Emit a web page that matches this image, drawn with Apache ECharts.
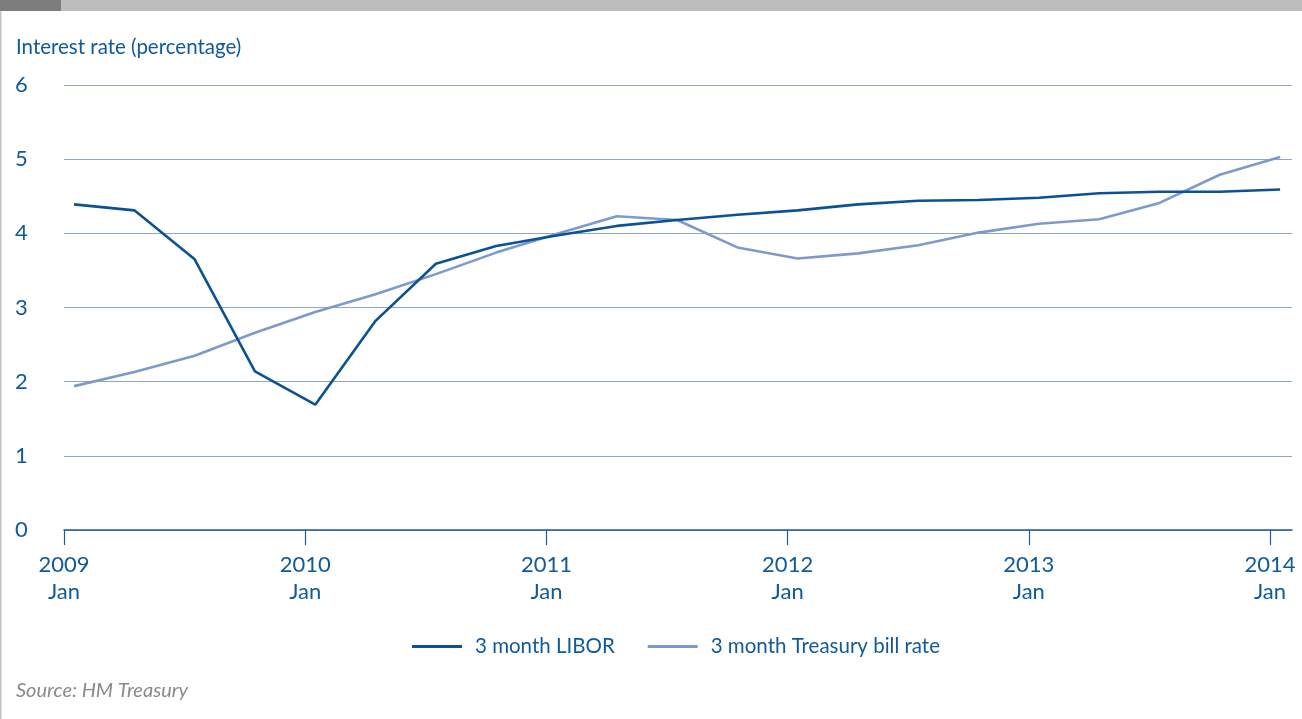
<!DOCTYPE html>
<html>
<head>
<meta charset="utf-8">
<script src="https://cdn.jsdelivr.net/npm/echarts@6/dist/echarts.min.js"></script>
<style>
html,body{margin:0;padding:0;background:#fff;}
#chart{width:1302px;height:719px;}
</style>
</head>
<body>
<div id="chart"></div>
<script>
// Quarterly observations (year, month)
var periods = ['2009-01','2009-04','2009-07','2009-10','2010-01','2010-04','2010-07','2010-10',
  '2011-01','2011-04','2011-07','2011-10','2012-01','2012-04','2012-07','2012-10',
  '2013-01','2013-04','2013-07','2013-10','2014-01'];
var libor = [4.39,4.31,3.65,2.14,1.69,2.82,3.59,3.83,3.97,4.10,4.18,4.25,4.31,4.39,4.44,4.45,4.48,4.54,4.56,4.56,4.59];
var tbill = [1.94,2.13,2.35,2.66,2.94,3.18,3.45,3.74,3.99,4.23,4.18,3.81,3.66,3.73,3.84,4.01,4.13,4.19,4.41,4.79,5.03];
var xTicks = [2009,2010,2011,2012,2013,2014];
var yTicks = [0,1,2,3,4,5,6];
var seriesNames = ['3 month LIBOR','3 month Treasury bill rate'];

function toYear(p){
  var a = p.split('-');
  return +a[0] + (+a[1] - 0.5) / 12;
}
function pairs(vals){
  return periods.map(function(p,i){ return [toYear(p), vals[i]]; });
}

var FONT = 'Lato';
var TXT = '#0f5a9b';
var chart = echarts.init(document.getElementById('chart'));
chart.setOption({
  animation:false,
  backgroundColor:'#fff',
  textStyle:{fontFamily:FONT},
  grid:{left:64, right:10, top:85, bottom:189, containLabel:false},
  graphic:[
    {type:'rect', shape:{x:0,y:0,width:61,height:11}, style:{fill:'#7d7d7d'}},
    {type:'rect', shape:{x:61,y:0,width:1241,height:11}, style:{fill:'#bdbdbd'}},
    {type:'rect', shape:{x:0,y:11,width:1.5,height:708}, style:{fill:'#c4c4c4'}},
    {type:'text', x:16, y:47, style:{text:'Interest rate (percentage)', fill:TXT, font:'20.5px '+FONT, verticalAlign:'middle'}},
    {type:'text', x:16, y:691, style:{text:'Source: HM Treasury', fill:'#8a8a8a', font:'italic 20px '+FONT, verticalAlign:'middle'}}
  ],
  legend:{
    left:412, top:636, padding:0, itemWidth:50, itemHeight:3, itemGap:33, icon:'rect',
    textStyle:{color:TXT, fontSize:20.5, fontFamily:FONT, padding:[0,0,0,8]},
    data:seriesNames
  },
  xAxis:{
    type:'value', min:2009, max:2014.091, interval:1,
    axisLine:{show:true, lineStyle:{color:'#1d5b99', width:1.5}},
    axisTick:{show:true, length:15, inside:false, customValues:xTicks, lineStyle:{color:'#1d5b99', width:1.2}},
    axisLabel:{customValues:xTicks, margin:21, color:TXT, fontSize:22, lineHeight:27, fontFamily:FONT,
      formatter:function(v){ return v + '\nJan'; }},
    splitLine:{show:false}
  },
  yAxis:{
    type:'value', min:0, max:6, interval:1,
    axisLine:{show:false}, axisTick:{show:false},
    axisLabel:{align:'left', margin:49, color:TXT, fontSize:22, fontFamily:FONT},
    splitLine:{show:true, lineStyle:{color:'#8ea6cd', width:1}}
  },
  series:[
    {name:seriesNames[0], type:'line', data:pairs(libor), symbol:'none', z:3,
      lineStyle:{color:'#0a5294', width:2.6}, itemStyle:{color:'#0a5294'}},
    {name:seriesNames[1], type:'line', data:pairs(tbill), symbol:'none', z:2,
      lineStyle:{color:'#7c9bcc', width:2.6}, itemStyle:{color:'#7c9bcc'}}
  ]
});
</script>
</body>
</html>
